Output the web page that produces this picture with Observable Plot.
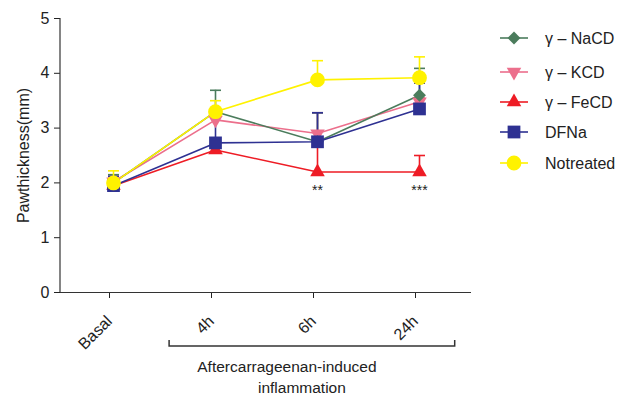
<!DOCTYPE html>
<html>
<head>
<meta charset="utf-8">
<script src="https://cdn.jsdelivr.net/npm/d3@7"></script>
<script src="https://cdn.jsdelivr.net/npm/@observablehq/plot@0.6"></script>
<style>
  html, body { margin: 0; padding: 0; background: #fff; }
  svg { font-family: "Liberation Sans", Arial, sans-serif; }
</style>
</head>
<body>
<div id="chart"></div>
<script>
// ---- data ----
const categories = ["Basal", "4h", "6h", "24h"];
const seriesNames = ["γ – NaCD", "γ – KCD", "γ – FeCD", "DFNa", "Notreated"];
const seriesColors = ["#4b7c5c", "#ec6f8c", "#ee1c25", "#2e3192", "#fff200"];
const seriesSymbols = ["diamond2", "triangle", "triangle", "square", "circle"];
const seriesRotate = [0, 180, 0, 0, 0];
const seriesR = [5.8, 5.4, 5.4, 7.2, 7.4];

const nacdMean = [2.0, 3.3, 2.75, 3.6];
const nacdTop  = [2.15, 3.69, 3.28, 4.09];
const kcdMean  = [2.02, 3.15, 2.9, 3.48];
const kcdTop   = [2.12, 3.28, 3.28, 3.55];
const fecdMean = [1.95, 2.6, 2.2, 2.2];
const fecdTop  = [2.08, 2.72, 2.68, 2.5];
const dfnaMean = [1.95, 2.73, 2.75, 3.35];
const dfnaTop  = [2.12, 3.2, 3.28, 3.82];
const ntMean   = [2.0, 3.3, 3.88, 3.92];
const ntTop    = [2.22, 3.5, 4.23, 4.3];

const starLabels = [{x: "6h", y: 1.86, label: "**"}, {x: "24h", y: 1.86, label: "***"}];
const yTicks = [0, 1, 2, 3, 4, 5];

// draw order (bottom to top)
const drawOrder = [2, 1, 0, 3, 4];
const means = [nacdMean, kcdMean, fecdMean, dfnaMean, ntMean];
const tops = [nacdTop, kcdTop, fecdTop, dfnaTop, ntTop];

const rows = [];
drawOrder.forEach(si => {
  categories.forEach((c, i) => {
    rows.push({series: seriesNames[si], si, x: c, y: means[si][i], top: tops[si][i]});
  });
});

const capSymbol = {
  draw(ctx, size) {
    const w = Math.sqrt(size / Math.PI);
    ctx.moveTo(-w, 0);
    ctx.lineTo(w, 0);
  }
};

const marks = [];
drawOrder.forEach(si => {
  const d = rows.filter(r => r.si === si);
  marks.push(Plot.ruleX(d, {x: "x", y1: "y", y2: "top", stroke: seriesColors[si], strokeWidth: 1.6}));
  marks.push(Plot.dot(d, {x: "x", y: "top", symbol: capSymbol, r: 5.5, stroke: seriesColors[si], strokeWidth: 1.6, fill: "none"}));
});
drawOrder.forEach(si => {
  const d = rows.filter(r => r.si === si);
  marks.push(Plot.line(d, {x: "x", y: "y", stroke: seriesColors[si], strokeWidth: 1.6}));
});
drawOrder.forEach(si => {
  const d = rows.filter(r => r.si === si);
  marks.push(Plot.dot(d, {x: "x", y: "y", symbol: seriesSymbols[si], r: seriesR[si], rotate: seriesRotate[si], fill: seriesColors[si], stroke: "none"}));
});
marks.push(Plot.text(starLabels, {x: "x", y: "y", text: "label", fontSize: 14, fill: "#222"}));
marks.push(Plot.axisY({ticks: yTicks, tickFormat: d => String(d), tickSize: 6, tickPadding: 5, fontSize: 16, label: "Pawthickness(mm)", labelAnchor: "center", labelOffset: 43, labelArrow: "none", color: "#222"}));
marks.push(Plot.axisX({tickSize: 6, tickPadding: 20, dx: -4, tickRotate: -45, fontSize: 16, label: null, color: "#222"}));
marks.push(Plot.ruleY([0], {stroke: "#333", strokeWidth: 1.2}));

const plot = Plot.plot({
  width: 620,
  height: 397,
  marginTop: 18,
  marginLeft: 60,
  marginRight: 149,
  marginBottom: 105,
  style: {fontFamily: '"Liberation Sans", Arial, sans-serif', color: "#222", background: "#fff"},
  x: {type: "point", domain: categories, padding: 0.5},
  y: {domain: [0, 5]},
  marks
});

const svg = d3.select(plot);
const xs = plot.scale("x");
const ys = plot.scale("y");
const X = v => xs.apply(v);
const Y = v => ys.apply(v);

// left axis line
svg.append("line")
  .attr("x1", 60).attr("x2", 60)
  .attr("y1", Y(5)).attr("y2", Y(0))
  .attr("stroke", "#333").attr("stroke-width", 1.2);

// bracket under 4h..24h
const step = X("6h") - X("4h");
const bx1 = X("4h") - 0.45 * step;
const bx2 = X("24h") + 0.35 * step;
const by = 346;
svg.append("path")
  .attr("d", `M${bx1},${by - 6}V${by}H${bx2}V${by - 6}`)
  .attr("fill", "none").attr("stroke", "#333").attr("stroke-width", 1.5);
const tx = (bx1 + bx2) / 2 - 25;
svg.append("text").attr("x", tx).attr("y", 372).attr("text-anchor", "middle")
  .attr("font-size", 15.5).attr("fill", "#222").text("Aftercarrageenan-induced");
svg.append("text").attr("x", tx + 15).attr("y", 393).attr("text-anchor", "middle")
  .attr("font-size", 15.5).attr("fill", "#222").text("inflammation");

// legend
const legendY = [38, 72, 102, 132, 163];
const lg = svg.append("g");
const symMap = {diamond2: d3.symbolDiamond2, triangle: d3.symbolTriangle, square: d3.symbolSquare, circle: d3.symbolCircle};
[0, 1, 2, 3, 4].forEach((si, k) => {
  const g = lg.append("g").attr("transform", `translate(514,${legendY[k]})`);
  g.append("line").attr("x1", -14).attr("x2", 14).attr("stroke", seriesColors[si]).attr("stroke-width", 1.6);
  g.append("path")
    .attr("d", d3.symbol(symMap[seriesSymbols[si]], seriesR[si] * seriesR[si] * Math.PI)())
    .attr("transform", `rotate(${seriesRotate[si]})`)
    .attr("fill", seriesColors[si]);
  g.append("text").attr("x", 31).attr("y", 0).attr("dy", "0.35em")
    .attr("text-anchor", "start")
    .attr("font-size", 16).attr("fill", "#222").text(seriesNames[si]);
});

document.getElementById("chart").appendChild(plot);
</script>
</body>
</html>
